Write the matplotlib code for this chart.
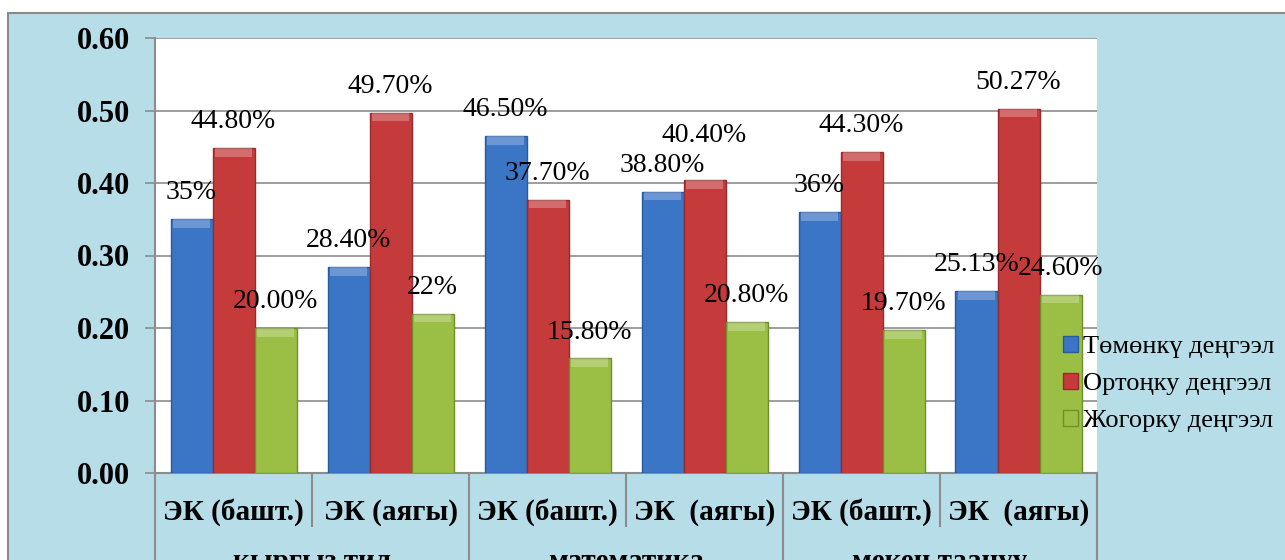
import matplotlib
matplotlib.use('Agg')
import matplotlib.pyplot as plt
from matplotlib.patches import Rectangle, Patch
import numpy as np

# data
categories = ['ЭК (башт.)', 'ЭК (аягы)', 'ЭК (башт.)', 'ЭК  (аягы)', 'ЭК (башт.)', 'ЭК  (аягы)']
groups = ['кыргыз тил', 'математика', 'мекен таануу']
series_names = ['Төмөнкү деңгээл', 'Ортоңку деңгээл', 'Жогорку деңгээл']
low = [0.35, 0.284, 0.465, 0.388, 0.36, 0.2513]
mid = [0.448, 0.497, 0.377, 0.404, 0.443, 0.5027]
high = [0.20, 0.22, 0.158, 0.208, 0.197, 0.246]
low_labels = ['35%', '28.40%', '46.50%', '38.80%', '36%', '25.13%']
mid_labels = ['44.80%', '49.70%', '37.70%', '40.40%', '44.30%', '50.27%']
high_labels = ['20.00%', '22%', '15.80%', '20.80%', '19.70%', '24.60%']
yticks = [0.0, 0.1, 0.2, 0.3, 0.4, 0.5, 0.6]

colors = ['#3b75c6', '#c53b3c', '#9bbf45']
edges = ['#2a5a9e', '#962b2c', '#6f8f2c']
bg = '#b7dde8'
grid_c = '#8c8c8c'
serif = ['Liberation Serif', 'DejaVu Serif']

W, H = 1285, 560
fig = plt.figure(figsize=(W / 100, H / 100), dpi=100, facecolor='white')
fig.patches.append(Rectangle((8 / W, -0.1), 1.2, (H - 13) / H + 0.1,
                             transform=fig.transFigure, facecolor=bg,
                             edgecolor='#8a8a8a', linewidth=1.5, zorder=-10))

left, right, top, bottom = 155, 1097, 38, 473
ax = fig.add_axes([left / W, (H - bottom) / H, (right - left) / W, (bottom - top) / H])
ax.set_facecolor('white')

x = np.arange(len(categories))
w = 42 / 157
series = [low, mid, high]
labels = [low_labels, mid_labels, high_labels]
# the 40.40% label sits higher in the original to clear its neighbour
lift = {(1, 3): 13}

for i, vals in enumerate(series):
    pos = x + (i - 1) * w
    ax.bar(pos, vals, width=w, color=colors[i], edgecolor=edges[i], linewidth=1.0, zorder=3)
    # light top bevel
    ax.bar(pos, [0.012] * len(vals), bottom=np.array(vals) - 0.012, width=w * 0.9,
           color='white', alpha=0.25, linewidth=0, zorder=4)
    for j, (p, v) in enumerate(zip(pos, vals)):
        ax.annotate(labels[i][j], (p, v), xytext=(0, 10 + lift.get((i, j), 0)),
                    textcoords='offset points', ha='center', va='bottom',
                    fontsize=20, family=serif, color='black', zorder=5)

ax.set_xlim(-0.5, len(categories) - 0.5)
ax.set_ylim(0, 0.6)
ax.set_yticks(yticks)
ax.set_yticklabels(['{:.2f}'.format(t) for t in yticks], fontsize=22,
                   fontweight='bold', family=serif)
ax.tick_params(axis='y', length=7, width=1.2, color=grid_c, pad=11)
ax.set_xticks([])
ax.grid(axis='y', color=grid_c, linewidth=1.2, zorder=0)
for s in ['top', 'right']:
    ax.spines[s].set_visible(False)
for s in ['left', 'bottom']:
    ax.spines[s].set_color(grid_c)
    ax.spines[s].set_linewidth(1.5)

# multi-level category axis
tr = ax.get_xaxis_transform()
ph = bottom - top
for k in range(len(categories) + 1):
    xb = k - 0.5
    y_end = -(H - bottom + 10) / ph if k % 2 == 0 else -53 / ph
    ax.plot([xb, xb], [0, y_end], transform=tr, color=grid_c, lw=1.5, clip_on=False)
for j, c in enumerate(categories):
    ax.text(j, -39 / ph, c, transform=tr, ha='center', va='center', fontsize=21,
            fontweight='bold', family=serif)
for g, name in enumerate(groups):
    ax.text(2 * g + 0.5, -75 / ph, name, transform=tr, ha='center', va='top',
            fontsize=21, fontweight='bold', family=serif)

handles = [Patch(facecolor=colors[i], edgecolor=edges[i]) for i in range(3)]
fig.legend(handles, series_names, loc='center left', bbox_to_anchor=(1050 / W, (H - 384) / H),
           frameon=False, prop={'family': serif, 'size': 19}, handlelength=0.55,
           handleheight=0.55, handletextpad=0.2, labelspacing=0.55, borderpad=0)

fig.savefig('out.png', dpi=100, facecolor='white')
